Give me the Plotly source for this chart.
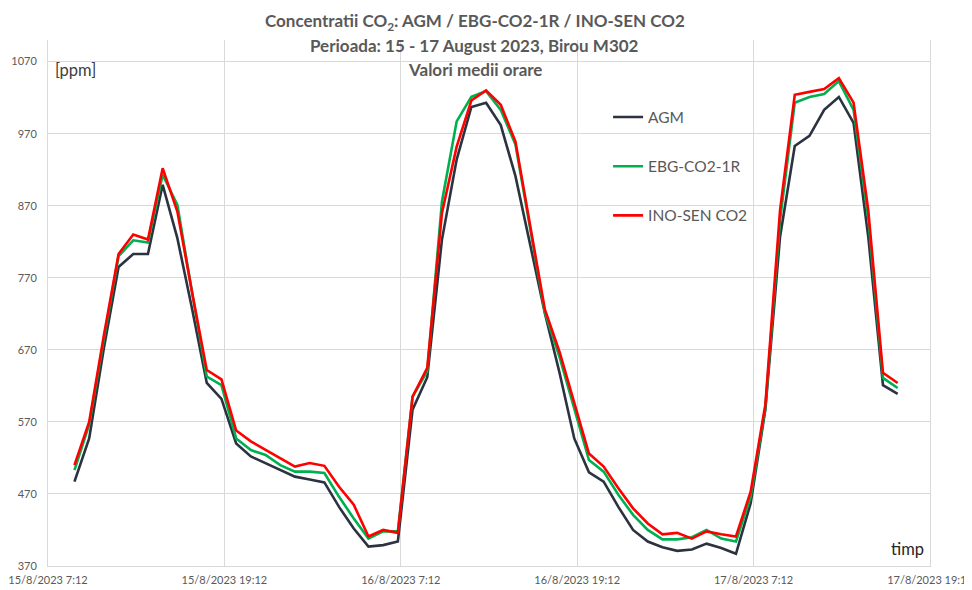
import plotly.graph_objects as go
import pandas as pd

# hourly averages, 15/8/2023 09:00 ... 17/8/2023 17:00
times = pd.date_range("2023-08-15 09:00", periods=57, freq="h")

agm = [487, 547, 672, 785, 803, 803, 899, 825, 727, 624,
       602, 540, 522, 513, 503, 494, 490, 486, 452, 422,
       397, 399, 404, 587, 632, 823, 934, 1007, 1013, 982,
       911, 818, 721, 638, 547, 500, 487, 452, 420, 404,
       396, 391, 393, 401, 395, 387, 457, 587, 827, 953,
       967, 1003, 1021, 985, 827, 621, 609]

ebg = [503, 566, 685, 800, 822, 819, 913, 871, 750, 633,
       621, 547, 531, 524, 510, 501, 501, 499, 466, 436,
       408, 418, 418, 605, 640, 876, 987, 1021, 1029, 1003,
       955, 838, 722, 660, 588, 517, 501, 469, 441, 420,
       407, 407, 410, 420, 408, 404, 466, 590, 850, 1013,
       1021, 1025, 1043, 1003, 853, 631, 617]

ino = [510, 570, 690, 803, 830, 823, 922, 862, 750, 642,
       629, 558, 543, 531, 520, 508, 513, 509, 480, 455,
       411, 420, 416, 605, 645, 860, 952, 1016, 1030, 1010,
       959, 841, 726, 667, 597, 526, 508, 478, 450, 429,
       414, 416, 408, 418, 414, 411, 473, 594, 864, 1024,
       1028, 1032, 1047, 1013, 864, 638, 624]

series_names = ["AGM", "EBG-CO2-1R", "INO-SEN CO2"]
series_colors = ["#2b3340", "#00b050", "#ff0000"]

x_tick_vals = ["2023-08-15 07:12", "2023-08-15 19:12", "2023-08-16 07:12",
               "2023-08-16 19:12", "2023-08-17 07:12", "2023-08-17 19:12"]
x_tick_text = ["15/8/2023 7:12", "15/8/2023 19:12", "16/8/2023 7:12",
               "16/8/2023 19:12", "17/8/2023 7:12", "17/8/2023 19:12"]
y_tick_vals = [370, 470, 570, 670, 770, 870, 970, 1070]

FONT = "Lato, 'Open Sans', sans-serif"
GRAY = "#595959"

fig = go.Figure()
for i, (name, vals, col) in enumerate(zip(series_names, [agm, ebg, ino], series_colors)):
    fig.add_trace(go.Scatter(
        x=times, y=vals, mode="lines", name=name,
        line=dict(color=col, width=2.6),
        legendgroup=f"g{i}",
    ))

fig.update_layout(
    width=964, height=582,
    margin=dict(l=40, r=42, t=32, b=24),
    paper_bgcolor="white", plot_bgcolor="white",
    font=dict(family=FONT, color=GRAY),
    showlegend=True,
    legend=dict(
        x=0.635, y=0.885, xanchor="left", yanchor="top",
        bgcolor="rgba(0,0,0,0)", font=dict(size=15.5, color=GRAY, family=FONT),
        tracegroupgap=26, itemwidth=30,
    ),
    xaxis=dict(
        type="date",
        range=["2023-08-15 07:12", "2023-08-17 19:12"],
        tickmode="array", tickvals=x_tick_vals, ticktext=x_tick_text,
        showgrid=True, gridcolor="#d9d9d9", gridwidth=1,
        showline=True, linecolor="#d9d9d9", linewidth=1,
        ticks="", ticklabelstandoff=4, ticklabeloverflow="allow",
        tickfont=dict(size=11, color=GRAY, family=FONT),
        zeroline=False, automargin=False,
    ),
    yaxis=dict(
        range=[370, 1100],
        tickmode="array", tickvals=y_tick_vals,
        showgrid=True, gridcolor="#d9d9d9", gridwidth=1,
        showline=True, linecolor="#d9d9d9", linewidth=1, mirror=True,
        ticks="", ticklabelstandoff=8,
        tickfont=dict(size=11, color=GRAY, family=FONT),
        zeroline=False, automargin=False,
    ),
    annotations=[
        dict(text="<b>Concentratii CO<sub>2</sub>: AGM / EBG-CO2-1R / INO-SEN CO2</b>",
             xref="paper", yref="paper", x=0.484, y=1.034, xanchor="center", yanchor="middle",
             showarrow=False, font=dict(size=17, color=GRAY, family=FONT)),
        dict(text="<b>Perioada: 15 - 17 August 2023, Birou M302</b>",
             xref="paper", yref="paper", x=0.484, y=0.990, xanchor="center", yanchor="middle",
             showarrow=False, font=dict(size=17, color=GRAY, family=FONT)),
        dict(text="<b>Valori medii orare</b>",
             xref="paper", yref="paper", x=0.484, y=0.943, xanchor="center", yanchor="middle",
             showarrow=False, font=dict(size=17, color=GRAY, family=FONT)),
        dict(text="[ppm]", xref="paper", yref="paper", x=0.006, y=0.943,
             xanchor="left", yanchor="middle", showarrow=False,
             font=dict(size=16.5, color="#404040", family=FONT)),
        dict(text="timp", xref="paper", yref="paper", x=0.974, y=0.032,
             xanchor="center", yanchor="middle", showarrow=False,
             font=dict(size=16.5, color="#262626", family=FONT)),
    ],
)

fig.write_html("out.html")
